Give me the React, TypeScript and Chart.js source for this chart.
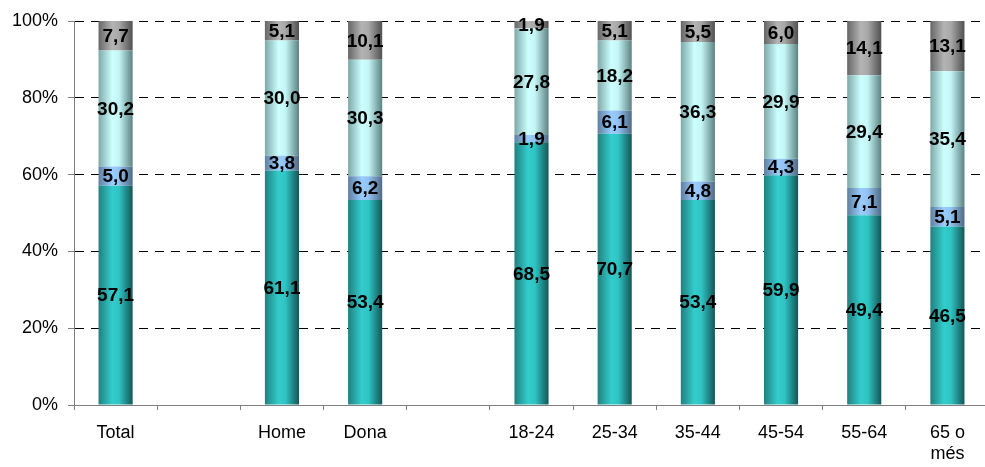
import React, { useEffect, useRef } from "react";
import { Chart, registerables } from "chart.js";

Chart.register(...registerables);

// ---- data ----
const categories: string[][] = [
  ["Total"], [""], ["Home"], ["Dona"], [""],
  ["18-24"], ["25-34"], ["35-44"], ["45-54"], ["55-64"], ["65 o", "més"],
];
const serie1 = [57.1, null, 61.1, 53.4, null, 68.5, 70.7, 53.4, 59.9, 49.4, 46.5];
const serie2 = [5.0, null, 3.8, 6.2, null, 1.9, 6.1, 4.8, 4.3, 7.1, 5.1];
const serie3 = [30.2, null, 30.0, 30.3, null, 27.8, 18.2, 36.3, 29.9, 29.4, 35.4];
const serie4 = [7.7, null, 5.1, 10.1, null, 1.9, 5.1, 5.5, 6.0, 14.1, 13.1];
const yTickValues = [0, 20, 40, 60, 80, 100];

const FONT = '"Liberation Sans", Arial, Helvetica, sans-serif';
const BAR_FRAC = 0.41;

type Stops = [string, string, string, string];
const teal: Stops = ["#21807f", "#33cccc", "#2fc4c4", "#145656"];
const blue: Stops = ["#5f7fa0", "#99ccff", "#92c2f2", "#4f6a85"];
const cyan: Stops = ["#7fa8a8", "#ccffff", "#c4f6f6", "#5c8282"];
const grey: Stops = ["#666666", "#b4b4b4", "#a8a8a8", "#505050"];

function gradient(stops: Stops) {
  return (ctx: any) => {
    const chart = ctx.chart;
    const xs = chart.scales && chart.scales.x;
    if (!xs || !chart.chartArea || ctx.dataIndex === undefined) return stops[1];
    const cx = xs.getPixelForValue(ctx.dataIndex);
    const w = (xs.width / categories.length) * BAR_FRAC;
    const g = chart.ctx.createLinearGradient(cx - w / 2, 0, cx + w / 2, 0);
    g.addColorStop(0, stops[0]);
    g.addColorStop(0.4, stops[1]);
    g.addColorStop(0.6, stops[2]);
    g.addColorStop(1, stops[3]);
    return g;
  };
}

const raw = [serie1, serie2, serie3, serie4];
const totals = categories.map((_, i) =>
  raw.reduce((s, arr) => s + (arr[i] == null ? 0 : (arr[i] as number)), 0)
);
const pct = (arr: (number | null)[]) =>
  arr.map((v, i) => (v == null || totals[i] === 0 ? null : (v / totals[i]) * 100));

const labelPlugin = {
  id: "segLabels",
  afterDatasetsDraw(chart: any) {
    const c = chart.ctx;
    c.save();
    c.font = `bold 19px ${FONT}`;
    c.fillStyle = "#000";
    c.textAlign = "center";
    c.textBaseline = "middle";
    chart.data.datasets.forEach((ds: any, di: number) => {
      const meta = chart.getDatasetMeta(di);
      meta.data.forEach((el: any, i: number) => {
        const v = raw[di][i];
        if (v == null) return;
        const y = (el.y + el.base) / 2;
        c.fillText((v as number).toFixed(1).replace(".", ","), el.x, y + 1);
      });
    });
    c.restore();
  },
};

export default function App() {
  const ref = useRef<HTMLCanvasElement | null>(null);
  useEffect(() => {
    if (!ref.current) return;
    const chart = new Chart(ref.current, {
      type: "bar",
      data: {
        labels: categories,
        datasets: [
          { label: "Sèrie 1", data: pct(serie1), backgroundColor: gradient(teal) },
          { label: "Sèrie 2", data: pct(serie2), backgroundColor: gradient(blue) },
          { label: "Sèrie 3", data: pct(serie3), backgroundColor: gradient(cyan) },
          { label: "Sèrie 4", data: pct(serie4), backgroundColor: gradient(grey) },
        ] as any,
      },
      options: {
        responsive: false,
        animation: false,
        layout: { padding: { top: 21, left: 0, right: 0, bottom: 0 } },
        plugins: { legend: { display: false }, tooltip: { enabled: false } },
        datasets: { bar: { barPercentage: BAR_FRAC, categoryPercentage: 1, borderWidth: 0 } },
        scales: {
          x: {
            stacked: true,
            offset: true,
            grid: {
              display: true,
              offset: true,
              drawOnChartArea: false,
              drawTicks: true,
              tickLength: 5,
              color: "#808080",
              tickColor: "#808080",
            },
            border: { display: true, color: "#808080", width: 1 },
            ticks: {
              color: "#000",
              font: { family: FONT, size: 18 },
              padding: 12,
              maxRotation: 0,
              autoSkip: false,
            },
            afterFit: (s: any) => {
              s.height = 62;
            },
          },
          y: {
            stacked: true,
            min: 0,
            max: 100,
            afterBuildTicks: (s: any) => {
              s.ticks = yTickValues.map((v) => ({ value: v }));
            },
            ticks: {
              color: "#000",
              font: { family: FONT, size: 18 },
              padding: 10,
              callback: (v: any) => `${v}%`,
            },
            grid: {
              color: "#000",
              tickColor: "#808080",
              tickLength: 6,
              lineWidth: 1,
            },
            border: { display: true, color: "#808080", width: 1, dash: [9, 7] },
            afterFit: (s: any) => {
              s.width = 74;
            },
          },
        },
      },
      plugins: [labelPlugin],
    });
    return () => chart.destroy();
  }, []);

  return (
    <div
      style={{
        position: "fixed",
        left: 0,
        top: 0,
        width: 985,
        height: 467,
        overflow: "hidden",
        background: "#fff",
      }}
    >
      <canvas ref={ref} width={989} height={467} style={{ display: "block" }} />
    </div>
  );
}
